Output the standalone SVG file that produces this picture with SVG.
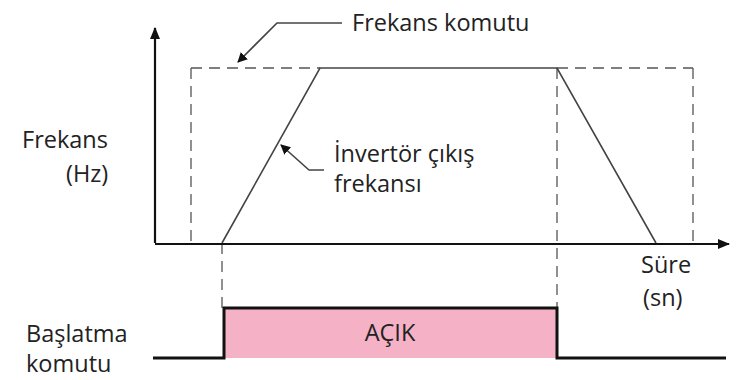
<svg xmlns="http://www.w3.org/2000/svg" width="737" height="380" viewBox="0 0 737 380">
<style>
.t{font-family:"Open Sans","Noto Sans","DejaVu Sans",sans-serif;font-size:23.5px;fill:#222}
.dash{fill:none;stroke:#555;stroke-width:1.3;stroke-dasharray:11 7}
.ramp{fill:none;stroke:#444;stroke-width:1.6}
.ax{fill:none;stroke:#111;stroke-width:2.2}
.lead{fill:none;stroke:#444;stroke-width:1.6}
</style>
<defs>
<marker id="ah" viewBox="0 0 10 10" refX="9" refY="5" markerWidth="10" markerHeight="10" markerUnits="userSpaceOnUse" orient="auto">
<path d="M0,0 L10,5 L0,10 z" fill="#111"/>
</marker>
<marker id="big" viewBox="0 0 12 10" refX="11" refY="5" markerWidth="12" markerHeight="10" markerUnits="userSpaceOnUse" orient="auto">
<path d="M0,0 L12,5 L0,10 z" fill="#111"/>
</marker>
</defs>
<g id="connectors">
<path class="dash" d="M191,68 H320 M557,68 H693 M191,68 V243 M693,68 V243 M222,243 V308 M557,68 V308"/>
<path class="ramp" d="M222,243 L320,68 H557 L656,243"/>
<path class="ax" d="M155,243 V28" marker-end="url(#big)"/>
<path class="ax" d="M155,244 H729" marker-end="url(#big)"/>
<path class="lead" d="M342,23 H277 L238,62" marker-end="url(#ah)"/>
<path class="lead" d="M324,170 H309 L281,145" marker-end="url(#ah)"/>
</g>
<g id="pulse">
<rect x="224" y="308" width="333" height="50" fill="#F5B1C5"/>
<path d="M153,358 H224 V308 H557 V358 H726" fill="none" stroke="#111" stroke-width="3"/>
<text class="t" x="390" y="341" text-anchor="middle">AÇIK</text>
</g>
<g id="label-frekans-komutu"><text class="t" x="352" y="31">Frekans komutu</text></g>
<g id="label-frekans-hz"><text class="t" x="22" y="148">Frekans</text><text class="t" x="66" y="182">(Hz)</text></g>
<g id="label-invertor"><text class="t" x="334" y="162">İnvertör çıkış</text><text class="t" x="334" y="192">frekansı</text></g>
<g id="label-sure"><text class="t" x="641" y="273">Süre</text><text class="t" x="643" y="306">(sn)</text></g>
<g id="label-baslatma"><text class="t" x="26" y="342">Başlatma</text><text class="t" x="26" y="372">komutu</text></g>
</svg>
